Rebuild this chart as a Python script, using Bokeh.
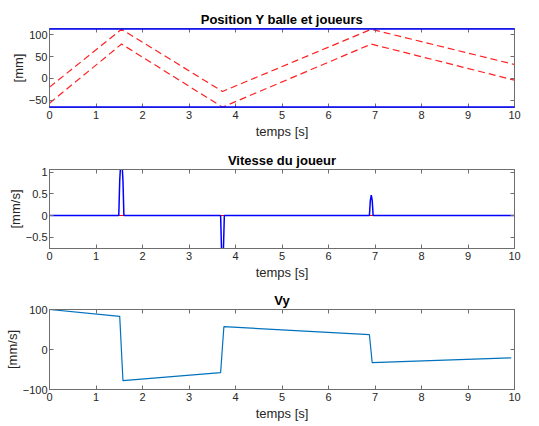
from bokeh.plotting import figure
from bokeh.layouts import column
from bokeh.models import Range1d, FixedTicker, LinearAxis, CustomJSTickFormatter
from bokeh.embed import file_html
from bokeh.resources import INLINE

# --- Data ---
# Plot 1: ball / players Y position
t_pos = [0, 1.55, 3.72, 6.92, 10]
y_upper = [-20, 113, -30, 113, 32]
y_lower = [-57, 79, -66, 79, -4]
t_paddle = [0, 10]
y_paddle_top = [113.5, 113.5]
y_paddle_bot = [-65.5, -65.5]

# Plot 2: player speed
t_speed = [0, 1.49, 1.51, 1.53, 1.56, 1.58, 1.60,
           3.68, 3.70, 3.72, 3.74, 3.76,
           6.88, 6.90, 6.92, 6.94, 6.96, 10]
v_speed = [0, 0, 0.8, 1.2, 1.2, 0.8, 0,
           0, -0.8, -0.9, -0.8, 0,
           0, 0.35, 0.47, 0.35, 0, 0]
t_speed2 = [0, 10]
v_speed2 = [0, 0]

# Plot 3: Vy
t_vy = [0, 1.51, 1.58, 3.68, 3.75, 6.88, 6.94, 9.93]
vy = [100, 83, -78, -58, 57, 37, -33, -21]

x_ticks = list(range(11))

AX = "#6e6e6e"
TXT = "#262626"
FONT = "Liberation Sans"


def make_fig(title, ylabel, yr, yticks, frame_h, top, bottom):
    p = figure(frame_width=465, frame_height=frame_h, x_range=Range1d(0, 10), y_range=Range1d(*yr),
               output_backend="svg", toolbar_location=None,
               min_border_left=49, min_border_right=25,
               min_border_top=top, min_border_bottom=bottom)
    p.title.text = title
    p.title.align = "center"
    p.title.text_font = FONT
    p.title.text_font_size = "13px"
    p.title.text_font_style = "bold"
    p.title.text_color = "black"
    p.title.standoff = 4
    p.grid.visible = False
    p.outline_line_color = AX
    p.background_fill_color = "white"
    p.border_fill_color = "white"
    for ax in p.xaxis:
        ax.ticker = FixedTicker(ticks=x_ticks)
        ax.axis_label = "temps [s]"
        ax.major_label_standoff = 3
        ax.axis_label_standoff = 2
    for ax in p.yaxis:
        ax.ticker = FixedTicker(ticks=yticks)
        ax.axis_label = ylabel
        ax.major_label_standoff = 2
        ax.axis_label_standoff = 0
    for ax in list(p.xaxis) + list(p.yaxis):
        ax.major_tick_in = 4
        ax.major_tick_out = 0
        ax.minor_tick_line_color = None
        ax.axis_line_color = AX
        ax.major_tick_line_color = AX
        ax.major_label_text_font = FONT
        ax.major_label_text_font_size = "11px"
        ax.major_label_text_color = TXT
        ax.axis_label_text_font = FONT
        ax.axis_label_text_font_size = "13px"
        ax.axis_label_text_font_style = "normal"
        ax.axis_label_text_color = TXT
    # box ticks on top/right (no labels)
    blank = CustomJSTickFormatter(code="return '';")
    top_ax = LinearAxis(ticker=FixedTicker(ticks=x_ticks), formatter=blank,
                        major_tick_in=4, major_tick_out=0,
                        minor_tick_line_color=None, axis_line_color=AX, major_tick_line_color=AX,
                        major_label_standoff=0, major_label_text_font_size="1px")
    right_ax = LinearAxis(ticker=FixedTicker(ticks=yticks), formatter=blank,
                          major_tick_in=4, major_tick_out=0,
                          minor_tick_line_color=None, axis_line_color=AX, major_tick_line_color=AX,
                          major_label_standoff=0, major_label_text_font_size="1px")
    p.add_layout(top_ax, "above")
    p.add_layout(right_ax, "right")
    return p


p1 = make_fig("Position Y balle et joueurs", "[mm]", (-66.8, 114.8), [-50, 0, 50, 100], 79, 28, 33)
p1.line(t_pos, y_upper, line_color="#ff2020", line_width=1.2, line_dash="7 4")
p1.line(t_pos, y_lower, line_color="#ff2020", line_width=1.2, line_dash="7 4")
p1.line(t_paddle, y_paddle_top, line_color="#0000ff", line_width=1.5, level="overlay")
p1.line(t_paddle, y_paddle_bot, line_color="#0000ff", line_width=1.5, level="overlay")

p2 = make_fig("Vitesse du joueur", "[mm/s]", (-0.76, 1.06), [-0.5, 0, 0.5, 1], 79, 28, 33)
p2.line(t_speed2, v_speed2, line_color="#ff0000", line_width=1.0)
p2.line(t_speed, v_speed, line_color="#0000ff", line_width=1.5)

p3 = make_fig("Vy", "[mm/s]", (-100, 100), [-100, 0, 100], 80, 27, 39)
p3.line(t_vy, vy, line_color="#0072BD", line_width=1.2)

layout = column(p1, p2, p3, spacing=0)

open("out.html", "w").write(file_html(layout, INLINE))
